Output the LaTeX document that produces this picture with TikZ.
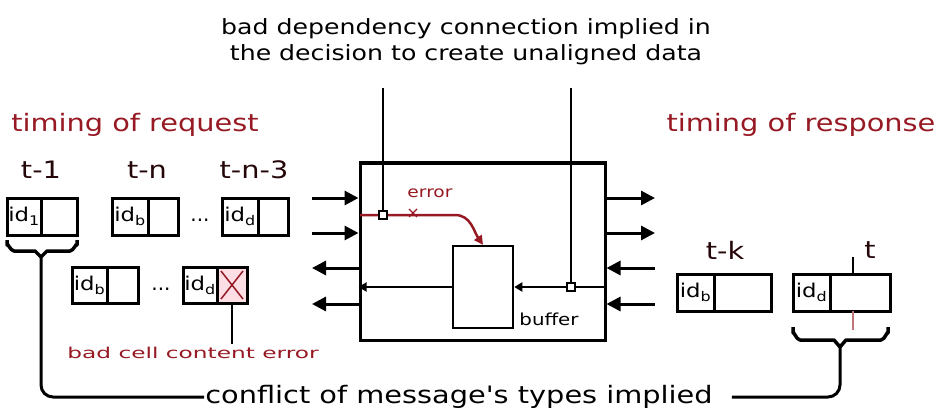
\documentclass[tikz,border=0pt]{standalone}
\usepackage{fontspec}
\setmainfont{DejaVu Sans}
\newfontfamily\widefont[FakeStretch=1.2]{DejaVu Sans}
\newfontfamily\xwidefont[FakeStretch=1.55]{DejaVu Sans}
\usetikzlibrary{arrows.meta}
\definecolor{errred}{RGB}{150,25,35}
\definecolor{pinkfill}{RGB}{252,222,228}
\begin{document}
\begin{tikzpicture}[x=1pt,y=-1pt,
  cellL/.style={draw,line width=3pt,inner sep=0pt,outer sep=0pt,minimum height=37pt,anchor=west,font=\widefont\fontsize{19}{19}\selectfont},
  cellR/.style={draw,line width=3pt,inner sep=0pt,outer sep=0pt,minimum height=37pt,anchor=west},
  arr/.style={line width=3pt,-{Triangle[length=14pt,width=14pt]}},
  sarr/.style={line width=2.5pt,-{Triangle[length=8pt,width=9pt]}},
  sq/.style={draw,fill=white,line width=2pt,minimum size=8pt,inner sep=0pt},
  brace/.style={line width=3.5pt,line join=round},
  tlab/.style={font=\widefont\fontsize{24}{24}\selectfont,text=black!75!errred},
  redlab/.style={font=\widefont\fontsize{24}{24}\selectfont,text=errred},
  conn/.style={line width=3pt}
]
\useasboundingbox (0,0) rectangle (937,417);

% top text
\node[align=center,font=\widefont\fontsize{21}{26}\selectfont] (top) at (466,42)
  {bad dependency connection implied in\\the decision to create unaligned data};
\coordinate (dep1) at (383,88);
\coordinate (dep2) at (571,88);

% side labels
\node[redlab] (treq) at (135,125) {timing of request};
\node[redlab] (tres) at (801,125) {timing of response};

% time labels
\node[tlab] (l1) at (41,170) {t-1};
\node[tlab] (l2) at (147,170) {t-n};
\node[tlab] (l3) at (254,170) {t-n-3};
\node[tlab] (l4) at (725,250) {t-k};
\node[tlab] (l5) at (870,250) {t};

% records row 1
\node[cellL,minimum width=34pt] (r1L) at (7,216.5) {id\textsubscript{1}};
\node[cellR,minimum width=36pt] (r1R) at (r1L.east) {};
\node[cellL,minimum width=36pt] (r2L) at (112,216.5) {id\textsubscript{b}};
\node[cellR,minimum width=30pt] (r2R) at (r2L.east) {};
\node[font=\fontsize{20}{20}\selectfont] (d1) at (200,220) {...};
\node[cellL,minimum width=36pt] (r3L) at (222,216.5) {id\textsubscript{d}};
\node[cellR,minimum width=30pt] (r3R) at (r3L.east) {};

% records row 2
\node[cellL,minimum width=35pt,minimum height=36pt] (r4L) at (72,285) {id\textsubscript{b}};
\node[cellR,minimum width=31pt,minimum height=36pt] (r4R) at (r4L.east) {};
\node[font=\fontsize{20}{20}\selectfont] (d2) at (161,289) {...};
\node[cellL,minimum width=34pt,minimum height=36pt] (r5L) at (183,285) {id\textsubscript{d}};
\node[cellR,minimum width=30pt,minimum height=36pt,fill=pinkfill] (r5R) at (r5L.east) {};
\draw[errred,line width=1.5pt] (r5R.north west) ++(4,4) -- ([shift={(-4,-4)}]r5R.south east);
\draw[errred,line width=1.5pt] (r5R.south west) ++(4,-4) -- ([shift={(-4,4)}]r5R.north east);

% response records
\node[cellL,minimum width=37pt] (r6L) at (677,292.5) {id\textsubscript{b}};
\node[cellR,minimum width=57pt] (r6R) at (r6L.east) {};
\node[cellL,minimum width=37pt] (r7L) at (793,292.5) {id\textsubscript{d}};
\node[cellR,minimum width=60pt] (r7R) at (r7L.east) {};
\coordinate (tk1) at (853,257);
\coordinate (tk2) at (853,330);
\draw[line width=2.5pt] (tk1) -- (tk1 |- r7R.north);
\draw[line width=2.5pt,errred!60] (tk2 |- r7R.south) -- (tk2);

% main box
\node[draw,line width=3pt,minimum width=245pt,minimum height=177pt,inner sep=0pt] (main) at (482.5,251.5) {};
\node[draw,line width=2.5pt,minimum width=60pt,minimum height=82pt,inner sep=0pt] (inner) at (483,287) {};
\node[font=\widefont\fontsize{16.5}{16.5}\selectfont] (buf) at (549,319) {buffer};

% left arrows
\coordinate (inA) at (312,198);
\coordinate (inB) at (312,233);
\coordinate (outA) at (312,268);
\coordinate (outB) at (312,304);
\draw[arr] (inA) -- (inA -| main.west);
\draw[arr] (inB) -- (inB -| main.west);
\draw[arr] (outA -| main.west) -- (outA);
\draw[arr] (outB -| main.west) -- (outB);

% right arrows
\coordinate (roA) at (655,198);
\coordinate (roB) at (655,233);
\coordinate (riA) at (655,268);
\coordinate (riB) at (655,304);
\draw[arr] (roA -| main.east) -- (roA);
\draw[arr] (roB -| main.east) -- (roB);
\draw[arr] (riA) -- (riA -| main.east);
\draw[arr] (riB) -- (riB -| main.east);

% inner lines
\draw[sarr] (inner.west) -- (inner.west -| main.west);
\draw[sarr] (inner.east -| main.east) -- (inner.east);

% error path
\coordinate (e0) at (360,215);
\coordinate (e1) at (455,215);
\draw[errred,line width=2.5pt,-{Triangle[length=9pt,width=9pt]}] (e0) -- (e1) to[out=0,in=125] (inner.north);
\draw[errred,line width=1.3pt] (409,209) -- (417,217) (409,217) -- (417,209);
\node[font=\widefont\fontsize{15.5}{15.5}\selectfont,text=errred] (err) at (430,193) {error};

% dependency lines
\node[sq] (sq1) at (383,215) {};
\node[sq] (sq2) at (571,287) {};
\draw[line width=2.5pt] (dep1) -- (sq1);
\draw[line width=2.5pt] (dep2) -- (sq2);

% braces
\coordinate (b1tip) at (41,257);
\draw[brace] (7,240) -- (7,245) to[out=90,in=180] (14,251) -- (35,251) -- (b1tip) -- (47,251) -- (70,251) to[out=0,in=90] (77,245) -- (77,240);
\coordinate (b2tip) at (840,347);
\draw[brace] (793,327) -- (793,333) to[out=90,in=180] (800,340) -- (834,340) -- (b2tip) -- (846,340) -- (881,340) to[out=0,in=90] (888,333) -- (888,327);

% bad cell content
\node[font=\xwidefont\fontsize{15}{15}\selectfont,text=errred] (bce) at (193,353) {bad cell content error};
\draw[line width=2.5pt] (r5R.south) -- (r5R.south |- bce.north);

% conflict
\node[font=\widefont\fontsize{24}{24}\selectfont,inner sep=1pt] (conf) at (459,397) {conflict of message's types implied};
\coordinate (cr) at ([xshift=18pt]conf.east);
\draw[conn,rounded corners=12pt] (b1tip) |- (conf.west);
\draw[conn,rounded corners=12pt] (cr) -| (b2tip);
\end{tikzpicture}
\end{document}
